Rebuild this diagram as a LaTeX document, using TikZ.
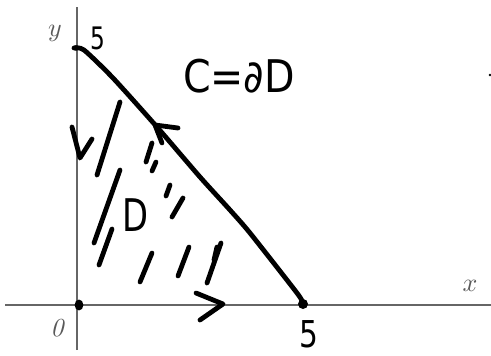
\documentclass[tikz,border=0pt]{standalone}
\usepackage{fontspec}
\usepackage{graphicx}
\newfontfamily\hand{DejaVu Sans}
\begin{document}
\begin{tikzpicture}[x=1pt,y=-1pt,
  pen/.style={line width=4.8pt,line cap=round,line join=round,black},
  axis/.style={line width=1.3pt,draw=black!60},
  lab/.style={text=black!65,inner sep=0pt},
  hw/.style={inner sep=0pt,font=\hand}]
\useasboundingbox (0,0) rectangle (491,356);
% axes
\coordinate (xl) at (5,305);
\coordinate (xr) at (491,305);
\coordinate (yb) at (77,350);
\coordinate (yt) at (77,7);
\draw[axis] (xl) -- (xr);
\draw[axis] (yb) -- (yt);
\node[lab] (ylab) at (55,33) {\scalebox{2.6}{$y$}};
\node[lab] (xlab) at (470,286) {\scalebox{2.6}{$x$}};
\node[lab] (olab) at (57,328) {\scalebox{2.6}{\itshape 0}};
% vertices
\coordinate (A) at (76,48);
\coordinate (B) at (303,304);
\coordinate (O) at (79,305);
\draw[pen] plot[smooth,tension=0.4] coordinates {(74,48) (84,50) (113,78) (157,127) (200,177) (230,210) (250,233) (297,293) (303,303)};
\fill (A) circle (2.8);
\fill (B) circle (5);
\fill (O) ellipse (4.4 and 5.4);
\fill (490,75) circle (1.3);
% handwritten labels
\node[hw,font=\hand\fontsize{31}{31}\selectfont,xscale=0.75] (s1) at (98,38) {5};
\node[hw,font=\hand\fontsize{37}{37}\selectfont,xscale=0.8] (s2) at (309,334) {5};
\node[hw,font=\hand\fontsize{45}{45}\selectfont,xscale=0.88] (cd) at (239,76) {C=∂D};
\node[hw,font=\hand\fontsize{45}{45}\selectfont,xscale=0.75] (dd) at (135,215) {D};
% orientation arrows
\draw[pen] (72,127) -- (80,158) -- (92,139);
\draw[pen] (178,128) -- (155,125) -- (162,143);
\draw[pen] (196,293) -- (223,304) -- (200,320);
% hatching
\foreach \xa/\ya/\xb/\yb in {120/102/97/175, 120/170/94/243, 112/229/99/265,
  152/143/146/162, 156/162/152/171, 170/185/166/196, 183/198/172/217,
  152/253/140/282, 189/247/178/276, 221/243/207/283, 217/247/214/260}
  \draw[pen] (\xa,\ya) -- (\xb,\yb);
\end{tikzpicture}
\end{document}
